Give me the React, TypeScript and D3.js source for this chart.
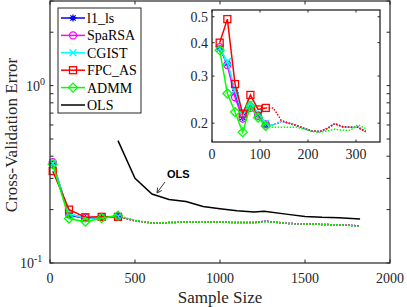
import React from 'react';
import * as d3 from 'd3';

// sample sizes
const mainN = [16, 112, 208, 304, 400];
const mainTailN = [400, 500, 600, 700, 800, 900, 1000, 1100, 1200, 1270, 1400, 1500, 1600, 1700, 1824];
const insetN = [16, 32, 48, 64, 80, 96, 112];
const insetTailN = [112, 128, 144, 160, 176, 192, 208, 224, 240, 256, 272, 288, 304, 320];
const olsN = [400, 500, 600, 700, 800, 900, 1000, 1100, 1200, 1260, 1400, 1500, 1600, 1700, 1824];

const names = ['l1_ls', 'SpaRSA', 'CGIST', 'FPC_AS', 'ADMM'];
const colors = ['#0000ff', '#ff00ff', '#00ffff', '#ff0000', '#00ff00'];
const markers = ['star', 'circle', 'x', 'square', 'diamond'];

// main chart errors at mainN
const mainL1ls = [0.365, 0.186, 0.178, 0.181, 0.183];
const mainSpaRSA = [0.37, 0.188, 0.18, 0.182, 0.183];
const mainCGIST = [0.365, 0.19, 0.178, 0.181, 0.183];
const mainFPCAS = [0.33, 0.2, 0.181, 0.182, 0.182];
const mainADMM = [0.36, 0.178, 0.171, 0.179, 0.185];
const mainTailOthers = [0.183, 0.173, 0.168, 0.169, 0.170, 0.170, 0.170, 0.169, 0.169, 0.172, 0.167, 0.166, 0.165, 0.164, 0.162];
const mainTailADMM = [0.185, 0.174, 0.168, 0.169, 0.170, 0.170, 0.170, 0.169, 0.168, 0.171, 0.167, 0.166, 0.165, 0.164, 0.161];
const olsErr = [0.49, 0.30, 0.245, 0.228, 0.222, 0.208, 0.202, 0.197, 0.194, 0.196, 0.188, 0.183, 0.181, 0.180, 0.177];

// inset errors at insetN
const insL1ls = [0.38, 0.335, 0.26, 0.21, 0.23, 0.215, 0.198];
const insSpaRSA = [0.385, 0.33, 0.25, 0.208, 0.228, 0.213, 0.198];
const insCGIST = [0.38, 0.34, 0.265, 0.215, 0.238, 0.218, 0.2];
const insFPCAS = [0.4, 0.49, 0.28, 0.217, 0.255, 0.225, 0.228];
const insADMM = [0.375, 0.258, 0.22, 0.185, 0.232, 0.21, 0.195];
const insTailOthers = [0.198, 0.197, 0.203, 0.2, 0.196, 0.191, 0.187, 0.186, 0.191, 0.199, 0.194, 0.193, 0.193, 0.186];
const insTailFPCAS = [0.228, 0.228, 0.205, 0.2, 0.196, 0.191, 0.187, 0.186, 0.191, 0.199, 0.194, 0.193, 0.193, 0.186];
const insTailADMM = [0.195, 0.193, 0.193, 0.193, 0.193, 0.19, 0.186, 0.185, 0.187, 0.19, 0.188, 0.188, 0.197, 0.191];

const mainVals = [mainL1ls, mainSpaRSA, mainCGIST, mainFPCAS, mainADMM];
const mainTails = [mainTailOthers, mainTailOthers, mainTailOthers, mainTailOthers, mainTailADMM];
const insVals = [insL1ls, insSpaRSA, insCGIST, insFPCAS, insADMM];
const insTails = [insTailOthers, insTailOthers, insTailOthers, insTailFPCAS, insTailADMM];

const xTicks = [0, 500, 1000, 1500, 2000];
const insXTicks = [0, 100, 200, 300];
const insYTicks = [0.2, 0.3, 0.4, 0.5];

const serif = '"Liberation Serif", "Times New Roman", serif';

const Marker = ({ type, x, y, color }: { type: string; x: number; y: number; color: string }) => {
    const s = 3.5;
    const common = { stroke: color, strokeWidth: 1.3, fill: 'none' };
    if (type === 'circle') return <circle cx={x} cy={y} r={s} {...common} />;
    if (type === 'square') return <rect x={x - s} y={y - s} width={2 * s} height={2 * s} {...common} />;
    if (type === 'diamond') return <path d={`M${x},${y - 4.5}L${x + 4.5},${y}L${x},${y + 4.5}L${x - 4.5},${y}Z`} {...common} />;
    if (type === 'x') return <path d={`M${x - s},${y - s}L${x + s},${y + s}M${x - s},${y + s}L${x + s},${y - s}`} {...common} />;
    const d = s * 0.75;
    return <path d={`M${x - s},${y}L${x + s},${y}M${x},${y - s}L${x},${y + s}M${x - d},${y - d}L${x + d},${y + d}M${x - d},${y + d}L${x + d},${y - d}`} {...common} />;
};

export default function App() {
    const W = 407, H = 307;
    const m = { l: 50, r: 390, t: 1, b: 263 };
    const x = d3.scaleLinear().domain([0, 2000]).range([m.l, m.r]);
    const y = d3.scaleLog().domain([0.1, 3]).range([m.b, m.t]);

    const ins = { l: 212, r: 380, t: 10, b: 142 };
    const ix = d3.scaleLinear().domain([0, 350]).range([ins.l, ins.r]);
    const iy = d3.scaleLog().domain([0.17, 0.53]).range([ins.b, ins.t]);

    const line = (sx: any, sy: any) => d3.line<[number, number]>().x((d) => sx(d[0])).y((d) => sy(d[1]));
    const mainLine = line(x, y);
    const insLine = line(ix, iy);
    const zip = (a: number[], b: number[]) => a.map((v, i) => [v, b[i]] as [number, number]);

    const yMinor = [0.2, 0.3, 0.4, 0.5, 0.6, 0.7, 0.8, 0.9, 2, 3];
    const tl = 3.5;

    return (
        <svg width={W} height={H} style={{ position: 'absolute', left: 0, top: 0, background: '#fff' }}>
            <rect x={0} y={0} width={W} height={H} fill="#fff" />
            {/* main data */}
            {mainVals.map((vals, i) => (
                <path key={'mt' + i} d={mainLine(zip(mainTailN, mainTails[i])) || ''} fill="none" stroke={colors[i]} strokeWidth={1.5} strokeDasharray="1.5,1.5" />
            ))}
            {mainVals.map((vals, i) => (
                <g key={'m' + i}>
                    <path d={mainLine(zip(mainN, vals)) || ''} fill="none" stroke={colors[i]} strokeWidth={1.5} />
                    {mainN.map((n, j) => <Marker key={j} type={markers[i]} x={x(n)} y={y(vals[j])} color={colors[i]} />)}
                </g>
            ))}
            <path d={mainLine(zip(olsN, olsErr)) || ''} fill="none" stroke="#000" strokeWidth={1.5} />

            {/* annotation */}
            <line x1={165} y1={182} x2={157.5} y2={192} stroke="#000" strokeWidth={0.8} />
            <path d="M157,193 L157.6,187.5 M157,193 L161.8,190.5" stroke="#000" strokeWidth={0.8} fill="none" />
            <text x={167} y={178} fontFamily='"Liberation Sans", Arial, sans-serif' fontWeight="bold" fontSize={11}>OLS</text>

            {/* main axes box */}
            <rect x={m.l} y={m.t} width={m.r - m.l} height={m.b - m.t} fill="none" stroke="#262626" strokeWidth={1.2} />
            {xTicks.map((t) => (
                <g key={'xt' + t}>
                    <line x1={x(t)} x2={x(t)} y1={m.b} y2={m.b - tl} stroke="#262626" />
                    <line x1={x(t)} x2={x(t)} y1={m.t} y2={m.t + tl} stroke="#262626" />
                    <text x={x(t)} y={283} textAnchor="middle" fontFamily={serif} fontSize={14} fill="#262626">{t}</text>
                </g>
            ))}
            {[0.1, 1, ...yMinor].map((t) => (
                <g key={'yt' + t}>
                    <line x1={m.l} x2={m.l + tl} y1={y(t)} y2={y(t)} stroke="#262626" />
                    <line x1={m.r} x2={m.r - tl} y1={y(t)} y2={y(t)} stroke="#262626" />
                </g>
            ))}
            <text x={26} y={y(1) + 5} fontFamily={serif} fontSize={14} fill="#262626">10<tspan dy={-6} fontSize={10}>0</tspan></text>
            <text x={20} y={y(0.1) + 5} fontFamily={serif} fontSize={14} fill="#262626">10<tspan dy={-6} fontSize={10}>-1</tspan></text>
            <text x={(m.l + m.r) / 2} y={303} textAnchor="middle" fontFamily={serif} fontSize={17} fill="#262626">Sample Size</text>
            <text transform={`translate(17,${(m.t + m.b) / 2 + 3}) rotate(-90)`} textAnchor="middle" fontFamily={serif} fontSize={17} fill="#262626">Cross-Validation Error</text>

            {/* legend */}
            <rect x={58} y={8} width={83} height={105} fill="#fff" stroke="#262626" strokeWidth={1} />
            {[...names, 'OLS'].map((nm, i) => {
                const ry = 18 + i * 17.4;
                const c = i < 5 ? colors[i] : '#000';
                return (
                    <g key={'lg' + i}>
                        <line x1={61} x2={85} y1={ry} y2={ry} stroke={c} strokeWidth={1.5} />
                        {i < 5 && <Marker type={markers[i]} x={73} y={ry} color={c} />}
                        <text x={87} y={ry + 5} fontFamily={serif} fontSize={14} fill="#000">{nm}</text>
                    </g>
                );
            })}

            {/* inset */}
            <rect x={ins.l} y={ins.t} width={ins.r - ins.l} height={ins.b - ins.t} fill="#fff" />
            {insVals.map((vals, i) => (
                <path key={'it' + i} d={insLine(zip(insetTailN, insTails[i])) || ''} fill="none" stroke={colors[i]} strokeWidth={1.5} strokeDasharray="1.5,1.5" />
            ))}
            {insVals.map((vals, i) => (
                <g key={'i' + i}>
                    <path d={insLine(zip(insetN, vals)) || ''} fill="none" stroke={colors[i]} strokeWidth={1.5} />
                    {insetN.map((n, j) => <Marker key={j} type={markers[i]} x={ix(n)} y={iy(vals[j])} color={colors[i]} />)}
                </g>
            ))}
            <rect x={ins.l} y={ins.t} width={ins.r - ins.l} height={ins.b - ins.t} fill="none" stroke="#262626" strokeWidth={1.3} />
            {insXTicks.map((t) => (
                <g key={'ixt' + t}>
                    <line x1={ix(t)} x2={ix(t)} y1={ins.b} y2={ins.b - 2.5} stroke="#262626" />
                    <line x1={ix(t)} x2={ix(t)} y1={ins.t} y2={ins.t + 2.5} stroke="#262626" />
                    <text x={ix(t)} y={159} textAnchor="middle" fontFamily={serif} fontSize={14} fill="#262626">{t}</text>
                </g>
            ))}
            {insYTicks.map((t) => (
                <g key={'iyt' + t}>
                    <line x1={ins.l} x2={ins.l + 2.5} y1={iy(t)} y2={iy(t)} stroke="#262626" />
                    <line x1={ins.r} x2={ins.r - 2.5} y1={iy(t)} y2={iy(t)} stroke="#262626" />
                    <text x={ins.l - 4} y={iy(t) + 5} textAnchor="end" fontFamily={serif} fontSize={14} fill="#262626">{t.toFixed(1)}</text>
                </g>
            ))}
        </svg>
    );
}
